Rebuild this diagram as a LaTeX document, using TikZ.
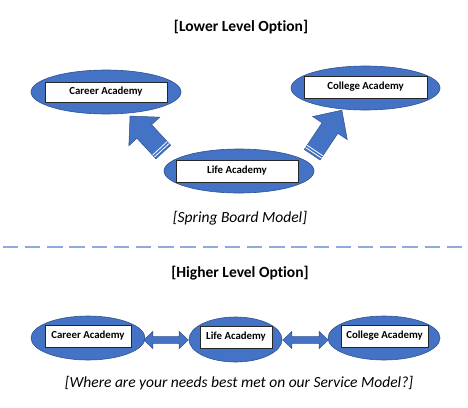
\documentclass[tikz,border=0pt]{standalone}
\usepackage{fontspec}
\setmainfont{Carlito}[Ligatures=NoCommon]
\usetikzlibrary{calc,shapes.geometric}
\definecolor{ablue}{HTML}{4472C4}
\definecolor{aedge}{HTML}{2F528F}
\definecolor{dashblue}{HTML}{8FAADC}
\begin{document}
\begin{tikzpicture}[x=1pt,y=-1pt,
  ell/.style={ellipse, fill=ablue, draw=aedge, line width=0.6pt, inner sep=0pt},
  box/.style={rectangle, fill=white, draw=black!85, line width=0.6pt, inner sep=0pt, font=\fontsize{10.8}{12}\selectfont\bfseries},
  blk/.style={fill=ablue, draw=aedge, line width=0.5pt},
  stripe/.style={white, line width=0.8pt},
  ttl/.style={font=\fontsize{15.5}{18}\selectfont\bfseries},
  capt/.style={font=\fontsize{15.5}{18}\selectfont\itshape},
  divider/.style={dashblue, line width=2.3pt, dash pattern=on 15.5pt off 6.7pt}]
\useasboundingbox (0,0) rectangle (468,407);
\fill[white] (0,0) rectangle (468,407);

% titles
\node[ttl] (t1) at (241,27) {[Lower Level Option]};
\node[capt] (c1) at (240,218) {[Spring Board Model]};
\node[ttl] (t2) at (240,273) {[Higher Level Option]};
\node[capt] (c2) at (239,383) {[Where are your needs best met on our Service Model?]};

% divider
\coordinate (dl) at (2.7,247.3);
\coordinate (dr) at (468,247.3);
\draw[divider] (dl) -- (dr);

% spring board arrows
\coordinate (lt) at (163.3,152);
\coordinate (rt) at (312.2,154.7);
\begin{scope}[shift={(lt)}, rotate=132.8]
  \draw[blk] (0,-10) -- (28,-10) -- (28,-21) -- (49,0) -- (28,21) -- (28,10) -- (0,10) -- cycle;
  \draw[stripe] (2.3,-10) -- (2.3,10);
  \draw[stripe] (5,-10) -- (5,10);
\end{scope}
\begin{scope}[shift={(rt)}, rotate=56.3]
  \draw[blk] (0,-9.5) -- (32,-9.5) -- (32,-20.8) -- (53.5,0) -- (32,20.8) -- (32,9.5) -- (0,9.5) -- cycle;
  \draw[stripe] (2.3,-9.5) -- (2.3,9.5);
  \draw[stripe] (5,-9.5) -- (5,9.5);
\end{scope}

% upper nodes
\node[ell, minimum width=150pt, minimum height=44pt] (careerA) at (106,92) {};
\node[box, minimum width=122pt, minimum height=20pt] (careerAbox) at (106,92) {Career Academy};
\node[ell, minimum width=149pt, minimum height=44pt] (collegeA) at (365.5,88) {};
\node[box, minimum width=123pt, minimum height=22pt] (collegeAbox) at (365.5,87) {College Academy};
\node[ell, minimum width=150pt, minimum height=44pt] (lifeA) at (239,171) {};
\node[box, minimum width=122pt, minimum height=22pt] (lifeAbox) at (237,171) {Life Academy};

% lower nodes
\node[ell, minimum width=114pt, minimum height=44pt] (careerB) at (88,338) {};
\node[box, minimum width=86pt, minimum height=22pt] (careerBbox) at (88,336) {Career Academy};
\node[ell, minimum width=93pt, minimum height=45pt] (lifeB) at (235.5,339.5) {};
\node[box, minimum width=72pt, minimum height=22pt] (lifeBbox) at (236,337) {Life Academy};
\node[ell, minimum width=112pt, minimum height=44pt] (collegeB) at (384,338) {};
\node[box, minimum width=87pt, minimum height=22pt] (collegeBbox) at (384.5,336) {College Academy};

% double arrows
\coordinate (d1a) at ($(careerB.east)+(-1.5,2)$);
\coordinate (d1b) at ($(lifeB.west)+(-0.5,0.5)$);
\coordinate (d2a) at ($(lifeB.east)+(0.5,0.5)$);
\coordinate (d2b) at ($(collegeB.west)+(0.5,2)$);
\foreach \a/\b in {d1a/d1b, d2a/d2b}{
  \draw[blk] (\a) -- ($(\a)+(9,-8.5)$) -- ($(\a)+(9,-3.3)$) -- ($(\b)+(-9,-3.3)$) -- ($(\b)+(-9,-8.5)$)
    -- (\b) -- ($(\b)+(-9,8.5)$) -- ($(\b)+(-9,3.3)$) -- ($(\a)+(9,3.3)$) -- ($(\a)+(9,8.5)$) -- cycle;
}
\end{tikzpicture}
\end{document}
